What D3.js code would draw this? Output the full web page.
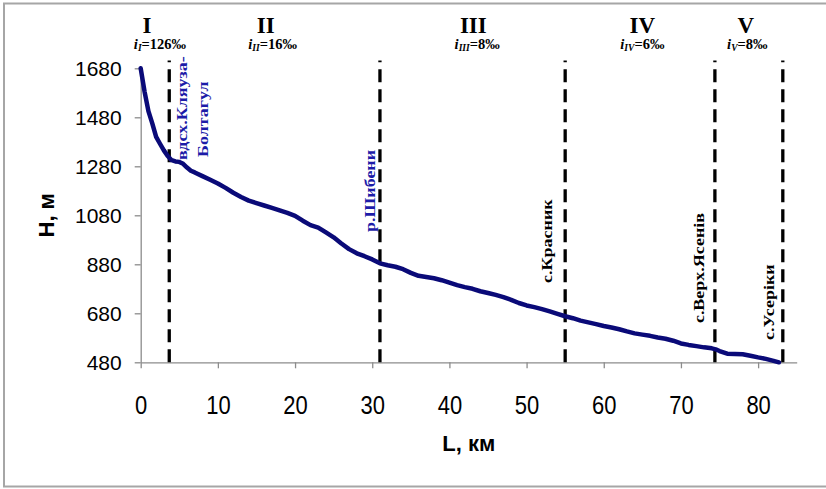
<!DOCTYPE html>
<html><head><meta charset="utf-8">
<script src="https://cdn.jsdelivr.net/npm/d3@7"></script>
<style>
html,body{margin:0;padding:0;background:#fff;}
svg{display:block;}
</style></head>
<body>
<svg id="chart" width="826" height="489"></svg>
<script>
// ---- data ----
const distanceKm = [0,0.5,1,1.5,2,2.5,3,3.5,4,4.5,5,5.5,6,6.5,7,8,9,10,11,12,13,14,15,16,17,18,19,20,21,22,23,24,25,26,27,28,29,30,31,32,33,34,35,36,37,38,39,40,41,42,43,44,45,46,47,48,49,50,51,52,53,54,55,56,57,58,59,60,61,62,63,64,65,66,67,68,69,70,71,72,73,74,74.5,75,76,77,78,79,80,81,82,82.7];
const elevationM = [1680,1585,1505,1455,1400,1372,1345,1322,1305,1300,1298,1290,1275,1262,1255,1240,1225,1210,1192,1172,1155,1140,1130,1120,1110,1100,1090,1078,1058,1040,1030,1010,990,965,942,925,913,900,884,876,870,860,845,833,828,823,815,805,795,787,780,770,763,755,746,735,722,712,705,697,688,678,668,660,650,643,636,628,622,615,606,598,593,588,581,576,568,557,551,546,541,537,533,526,515,514,513,507,500,494,486,480];

const xTicks = [0,10,20,30,40,50,60,70,80];
const yTicks = [480,680,880,1080,1280,1480,1680];

const boundaryKm = [3.7, 31, 55, 74.4, 83.2];

const sectionNames = ["I","II","III","IV","V"];
const sectionSlopes = ["126","16","8","6","8"];
const sectionNameKm = [0.8, 16.2, 43.1, 65.0, 78.4];
const sectionSlopeKm = [2.5, 17.1, 43.6, 65.0, 78.6];

const stationNames = ["вдсх.Кляуза-","Болтагул","р.Шибени","с.Красник","с.Верх.Ясенів","с.Усеріки"];
const stationKm = [5.34, 8.06, 29.66, 52.7, 72.3, 81.4];
const stationBottomH = [1306, 1318, 1012, 804, 640, 571];
const stationBlue = [true, true, true, false, false, false];

// ---- layout ----
const svg = d3.select("#chart");
const mLeft = 140.7, mRight = 796.7, mTop = 68.3, mBottom = 362.3;

svg.append("rect").attr("x",4).attr("y",3.5).attr("width",830).attr("height",483)
  .attr("fill","#fff").attr("stroke","#a6a6a6").attr("stroke-width",2);

const x = d3.scaleLinear().domain([0,85]).range([mLeft,mRight]);
const y = d3.scaleLinear().domain([480,1680]).range([mBottom,mTop]);

// axes
const xAxis = svg.append("g").attr("transform",`translate(0,${mBottom})`)
  .call(d3.axisBottom(x).tickValues(xTicks).tickFormat(d3.format("d")).tickSize(6).tickPadding(8).tickSizeOuter(0));
xAxis.selectAll("text").attr("font-family","Arial, 'Liberation Sans', sans-serif")
  .attr("font-size",22).attr("fill","#000").attr("dy","0")
  .attr("transform","translate(0,35) scale(1,1.2)");
const yAxis = svg.append("g").attr("transform",`translate(${mLeft},0)`)
  .call(d3.axisLeft(y).tickValues(yTicks).tickFormat(d3.format("d")).tickSize(6).tickPadding(13).tickSizeOuter(0));
yAxis.selectAll("text").attr("font-family","Arial, 'Liberation Sans', sans-serif")
  .attr("font-size",21).attr("fill","#000");
svg.selectAll(".domain").attr("stroke","#8c8c8c").attr("stroke-width",1.3);
svg.selectAll(".tick line").attr("stroke","#8c8c8c").attr("stroke-width",1.3);

// axis titles
svg.append("text").attr("x",(mLeft+mRight)/2).attr("y",451).attr("text-anchor","middle")
  .attr("font-family","Arial, 'Liberation Sans', sans-serif").attr("font-weight","bold")
  .attr("font-size",22).text("L, км");
svg.append("text").attr("transform",`translate(54,${(mTop+mBottom)/2}) rotate(-90)`)
  .attr("text-anchor","middle")
  .attr("font-family","Arial, 'Liberation Sans', sans-serif").attr("font-weight","bold")
  .attr("font-size",22).text("H, м");

// boundary dashed lines
svg.append("g").selectAll("line").data(boundaryKm).join("line")
  .attr("x1",d=>x(d)).attr("x2",d=>x(d))
  .attr("y1",y(480)).attr("y2",y(1712))
  .attr("stroke","#000").attr("stroke-width",3.3)
  .attr("stroke-dasharray","13,7");

// profile line
const line = d3.line().x((d,i)=>x(distanceKm[i])).y(d=>y(d));
svg.append("path").datum(elevationM).attr("d",line)
  .attr("fill","none").attr("stroke","#0a0a78").attr("stroke-width",4.5)
  .attr("stroke-linejoin","round").attr("stroke-linecap","round");

// section labels
const serif = "'Times New Roman','Liberation Serif',serif";
svg.append("g").selectAll("text").data(sectionNames).join("text")
  .attr("x",(d,i)=>x(sectionNameKm[i])).attr("y",33)
  .attr("text-anchor","middle").attr("font-family",serif).attr("font-weight","bold")
  .attr("font-size",23).text(d=>d);

const slopeG = svg.append("g");
sectionNames.forEach((n,i)=>{
  const t = slopeG.append("text").attr("x",x(sectionSlopeKm[i])).attr("y",49)
    .attr("text-anchor","middle").attr("font-family",serif).attr("font-weight","bold")
    .attr("font-size",14.5);
  t.append("tspan").attr("font-style","italic").text("i");
  t.append("tspan").attr("font-style","italic").attr("font-size",9.5).attr("dy",2).text(n);
  t.append("tspan").attr("dy",-2).text("=" + sectionSlopes[i] + "‰");
});

// station labels (rotated)
svg.append("g").selectAll("text").data(stationNames).join("text")
  .attr("transform",(d,i)=>`translate(${x(stationKm[i])},${y(stationBottomH[i])}) rotate(-90) scale(1.2,1)`)
  .attr("dominant-baseline","central")
  .attr("font-family",serif).attr("font-weight","bold").attr("font-size",15)
  .attr("fill",(d,i)=>stationBlue[i] ? "#1c1ca8" : "#000")
  .text(d=>d);
</script>
</body></html>
